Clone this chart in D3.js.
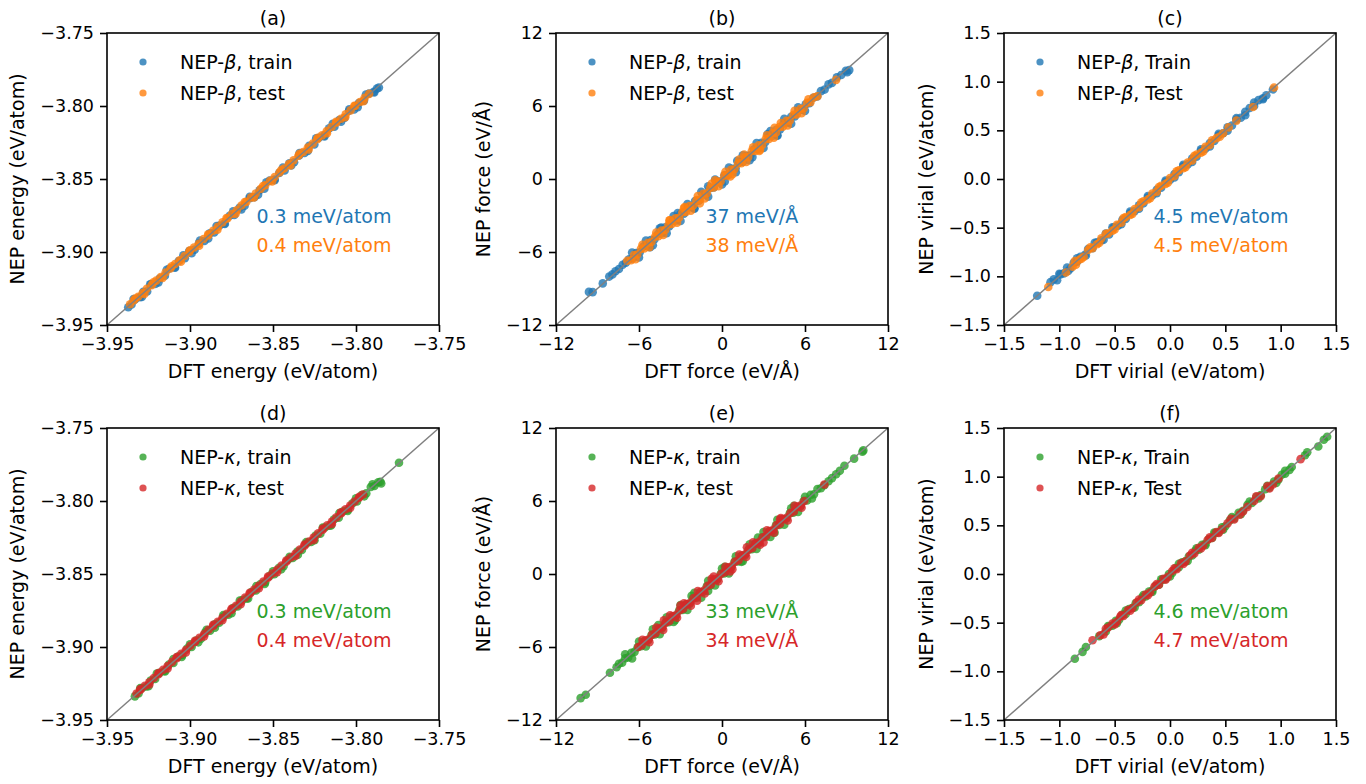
<!doctype html>
<html>
<head>
<meta charset="utf-8">
<style>
  body { margin: 0; background: #fff; }
  svg { display: block; }
  text { font-family: "DejaVu Sans", sans-serif; fill: #000; }
</style>
</head>
<body>
<svg width="1366" height="784"></svg>
<script src="https://d3js.org/d3.v7.min.js"></script>
<script>
  // values: [DFT, NEP]
  let energyTrainBeta = [
    [-3.9372,-3.9378],[-3.9352,-3.9360],[-3.9331,-3.9325],[-3.9302,-3.9310],[-3.9281,-3.9272],[-3.9258,-3.9270],
    [-3.9234,-3.9222],[-3.9207,-3.9218],[-3.9183,-3.9181],[-3.9151,-3.9163],[-3.9124,-3.9113],[-3.9093,-3.9104],
    [-3.9068,-3.9062],[-3.9031,-3.9043],[-3.9005,-3.8993],[-3.8972,-3.8984],[-3.8946,-3.8941],[-3.8913,-3.8925],
    [-3.8881,-3.8872],[-3.8854,-3.8866],[-3.8822,-3.8819],[-3.8793,-3.8805],[-3.8761,-3.8752],[-3.8733,-3.8746],
    [-3.8702,-3.8698],[-3.8671,-3.8683],[-3.8640,-3.8632],[-3.8612,-3.8625],[-3.8581,-3.8577],[-3.8552,-3.8566],
    [-3.8520,-3.8511],[-3.8491,-3.8504],[-3.8462,-3.8458],[-3.8430,-3.8442],[-3.8401,-3.8392],[-3.8373,-3.8385],
    [-3.8342,-3.8339],[-3.8310,-3.8322],[-3.8282,-3.8273],[-3.8251,-3.8264],[-3.8223,-3.8218],[-3.8191,-3.8203],
    [-3.8162,-3.8153],[-3.8130,-3.8142],[-3.8101,-3.8097],[-3.8070,-3.8082],[-3.8042,-3.8033],[-3.8011,-3.8024],
    [-3.7983,-3.7979],[-3.7952,-3.7963],[-3.7921,-3.7914],[-3.7893,-3.7902],[-3.7874,-3.7881],[-3.7862,-3.7874],
    [-3.9340,-3.9322],[-3.9290,-3.9308],[-3.9240,-3.9222],[-3.9190,-3.9208],[-3.9140,-3.9122],[-3.9090,-3.9108],
    [-3.9040,-3.9022],[-3.8990,-3.9008],[-3.8940,-3.8922],[-3.8890,-3.8908],[-3.8840,-3.8822],[-3.8790,-3.8808],
    [-3.8740,-3.8722],[-3.8690,-3.8708],[-3.8640,-3.8622],[-3.8590,-3.8608],[-3.8540,-3.8522],[-3.8490,-3.8508],
    [-3.8440,-3.8422],[-3.8390,-3.8408],[-3.8340,-3.8322],[-3.8290,-3.8308],[-3.8240,-3.8222],[-3.8190,-3.8208],
    [-3.8140,-3.8122],[-3.8090,-3.8108],[-3.8040,-3.8022],[-3.7990,-3.8008],[-3.7940,-3.7922],[-3.7890,-3.7908]
  ];
  let energyTestBeta = [
    [-3.9361,-3.9358],[-3.9338,-3.9331],[-3.9312,-3.9306],[-3.9285,-3.9281],[-3.9260,-3.9252],[-3.9231,-3.9227],
    [-3.9203,-3.9196],[-3.9176,-3.9171],[-3.9147,-3.9140],[-3.9118,-3.9113],[-3.9090,-3.9082],[-3.9062,-3.9057],
    [-3.9033,-3.9027],[-3.9004,-3.8999],[-3.8976,-3.8969],[-3.8947,-3.8943],[-3.8918,-3.8911],[-3.8890,-3.8886],
    [-3.8861,-3.8855],[-3.8832,-3.8828],[-3.8804,-3.8797],[-3.8775,-3.8771],[-3.8747,-3.8740],[-3.8718,-3.8714],
    [-3.8690,-3.8682],[-3.8661,-3.8657],[-3.8632,-3.8626],[-3.8604,-3.8600],[-3.8575,-3.8568],[-3.8547,-3.8543],
    [-3.8518,-3.8512],[-3.8490,-3.8486],[-3.8461,-3.8455],[-3.8433,-3.8428],[-3.8404,-3.8398],[-3.8376,-3.8372],
    [-3.8347,-3.8341],[-3.8318,-3.8315],[-3.8290,-3.8284],[-3.8261,-3.8258],[-3.8233,-3.8228],[-3.8204,-3.8201],
    [-3.8176,-3.8172],[-3.8147,-3.8144],[-3.8119,-3.8115],[-3.8090,-3.8087],[-3.8062,-3.8057],[-3.8033,-3.8030],
    [-3.8005,-3.8000],[-3.7976,-3.7973],[-3.7948,-3.7944],[-3.7921,-3.7917],
    [-3.9330,-3.9318],[-3.9275,-3.9287],[-3.9220,-3.9208],[-3.9165,-3.9177],[-3.9110,-3.9098],[-3.9055,-3.9067],
    [-3.9000,-3.8988],[-3.8945,-3.8957],[-3.8890,-3.8878],[-3.8835,-3.8847],[-3.8780,-3.8768],[-3.8725,-3.8737],
    [-3.8670,-3.8658],[-3.8615,-3.8627],[-3.8560,-3.8548],[-3.8505,-3.8517],[-3.8450,-3.8438],[-3.8395,-3.8407],
    [-3.8340,-3.8328],[-3.8285,-3.8297],[-3.8230,-3.8218],[-3.8175,-3.8187],[-3.8120,-3.8108],[-3.8065,-3.8077],
    [-3.8010,-3.7998],[-3.7955,-3.7967]
  ];
  let forceTrainBeta = [
    [-9.62,-9.28],[-9.35,-9.30],[-8.62,-8.58],[-8.15,-8.02],[-7.92,-7.84],[-7.70,-7.58],[-7.45,-7.40],[-7.18,-7.05],
    [-6.95,-6.88],[-6.72,-6.60],[-6.45,-6.52],[-6.20,-6.08],[-5.95,-6.02],[-5.68,-5.55],[-5.40,-5.48],[-5.15,-5.02],
    [-4.88,-4.95],[-4.62,-4.50],[-4.35,-4.45],[-4.10,-3.96],[-3.82,-3.90],[-3.55,-3.42],[-3.30,-3.40],[-3.02,-2.88],
    [-2.75,-2.85],[-2.48,-2.35],[-2.22,-2.32],[-1.95,-1.82],[-1.68,-1.78],[-1.40,-1.28],[-1.15,-1.25],[-0.88,-0.76],
    [-0.60,-0.70],[-0.35,-0.22],[-0.08,-0.18],[0.18,0.30],[0.45,0.35],[0.72,0.84],[0.98,0.88],[1.25,1.38],
    [1.52,1.42],[1.78,1.90],[2.05,1.95],[2.32,2.45],[2.60,2.48],[2.85,2.98],[3.12,3.02],[3.40,3.52],
    [3.66,3.55],[3.92,4.05],[4.20,4.08],[4.46,4.58],[4.72,4.62],[5.00,5.12],[5.26,5.15],[5.52,5.62],
    [5.80,5.70],[6.05,6.15],[6.32,6.22],[6.60,6.68],[6.88,6.78],[7.15,7.22],[7.42,7.35],[7.70,7.78],
    [7.95,7.90],[8.30,8.35],[8.62,8.55],[8.95,8.90],[9.20,8.95],[9.05,8.78],
    [-3.2,-2.8],[-2.0,-2.4],[-1.0,-0.6],[0.2,-0.2],[1.1,1.5],[2.2,1.8],[3.3,3.7],[4.0,3.6],[-4.4,-4.0],[-5.2,-5.6],
    [-6.5,-6.05],[-6.0,-6.45],[-5.5,-5.05],[-5.0,-5.45],[-4.5,-4.05],[-4.0,-4.45],[-3.5,-3.05],[-3.0,-3.45],
    [-2.5,-2.05],[-2.0,-2.45],[-1.5,-1.05],[-1.0,-1.45],[-0.5,-0.05],[0.0,-0.45],[0.5,0.95],[1.0,0.55],
    [1.5,1.95],[2.0,1.55],[2.5,2.95],[3.0,2.55],[3.5,3.95],[4.0,3.55],[4.5,4.95],[5.0,4.55],[5.5,5.9],[6.0,5.6]
  ];
  let forceTestBeta = [
    [-6.85,-6.72],[-6.58,-6.68],[-6.36,-6.25],[-6.12,-6.20],[-5.86,-5.74],[-5.62,-5.70],[-5.34,-5.24],[-5.10,-5.18],
    [-4.84,-4.74],[-4.60,-4.70],[-4.36,-4.24],[-4.10,-4.18],[-3.86,-3.74],[-3.62,-3.70],[-3.35,-3.22],[-3.10,-3.18],
    [-2.86,-2.74],[-2.60,-2.70],[-2.35,-2.22],[-2.10,-2.20],[-1.84,-1.74],[-1.60,-1.70],[-1.36,-1.22],[-1.10,-1.18],
    [-0.86,-0.74],[-0.60,-0.70],[-0.35,-0.22],[-0.10,-0.20],[0.16,0.28],[0.40,0.30],[0.66,0.78],[0.90,0.80],
    [1.16,1.28],[1.40,1.30],[1.66,1.78],[1.90,1.80],[2.15,2.28],[2.40,2.30],[2.64,2.76],[2.90,2.80],
    [3.16,3.28],[3.40,3.30],[3.66,3.78],[3.90,3.80],[4.14,4.26],[4.40,4.30],[4.66,4.78],[4.90,4.80],
    [5.16,5.28],[5.40,5.30],[5.66,5.76],[5.90,5.80],[6.15,6.26],[6.40,6.32],[6.66,6.72],[6.90,6.80],[8.25,8.15],
    [-2.7,-2.3],[-1.6,-2.0],[-0.5,-0.1],[0.6,0.2],[1.6,2.0],[2.7,2.3],[-3.8,-3.4],[3.8,4.2],
    [-6.25,-6.6],[-5.75,-5.4],[-5.25,-5.6],[-4.75,-4.4],[-4.25,-4.6],[-3.75,-3.4],[-3.25,-3.6],[-2.75,-2.4],
    [-2.25,-2.6],[-1.75,-1.4],[-1.25,-1.6],[-0.75,-0.4],[-0.25,-0.6],[0.25,0.6],[0.75,0.4],[1.25,1.6],
    [1.75,1.4],[2.25,2.6],[2.75,2.4],[3.25,3.6],[3.75,3.4],[4.25,4.6],[4.75,4.4],[5.25,5.6],[5.75,5.4],[6.25,6.55]
  ];
  let virialTrainBeta = [
    [-1.20,-1.20],[-1.08,-1.06],[-1.05,-1.03],[-1.02,-1.04],[-0.99,-0.98],[-0.96,-0.97],[-0.93,-0.91],[-0.90,-0.92],
    [-0.87,-0.86],[-0.84,-0.85],[-0.81,-0.80],[-0.77,-0.78],[-0.74,-0.72],[-0.70,-0.71],[-0.66,-0.65],[-0.62,-0.63],
    [-0.58,-0.56],[-0.55,-0.57],[-0.51,-0.50],[-0.47,-0.48],[-0.43,-0.42],[-0.40,-0.41],[-0.36,-0.35],[-0.32,-0.33],
    [-0.28,-0.27],[-0.24,-0.25],[-0.20,-0.19],[-0.16,-0.17],[-0.12,-0.11],[-0.08,-0.09],[-0.04,-0.03],[0.00,-0.01],
    [0.04,0.05],[0.08,0.07],[0.12,0.13],[0.16,0.15],[0.20,0.21],[0.24,0.23],[0.28,0.29],[0.32,0.31],
    [0.36,0.37],[0.40,0.39],[0.44,0.45],[0.48,0.47],[0.52,0.53],[0.56,0.55],[0.60,0.61],[0.64,0.63],
    [0.68,0.69],[0.72,0.73],[0.76,0.75],[0.80,0.81],[0.84,0.83],[0.87,0.86],[0.93,0.92],
    [-1.00,-0.975],[-0.92,-0.945],[-0.84,-0.815],[-0.76,-0.785],[-0.68,-0.655],[-0.60,-0.625],[-0.52,-0.495],
    [-0.44,-0.465],[-0.36,-0.335],[-0.28,-0.305],[-0.20,-0.175],[-0.12,-0.145],[-0.04,-0.015],[0.04,0.015],
    [0.12,0.145],[0.20,0.175],[0.28,0.305],[0.36,0.335],[0.44,0.465],[0.52,0.495],[0.60,0.625],[0.68,0.655],
    [0.76,0.785],[0.84,0.82]
  ];
  let virialTestBeta = [
    [-1.10,-1.11],[-0.94,-0.96],[-0.88,-0.90],[-0.85,-0.88],[-0.82,-0.83],[-0.78,-0.80],[-0.74,-0.73],[-0.70,-0.71],
    [-0.66,-0.67],[-0.62,-0.61],[-0.56,-0.56],[-0.52,-0.53],[-0.48,-0.47],[-0.44,-0.45],[-0.40,-0.39],[-0.36,-0.37],
    [-0.32,-0.31],[-0.28,-0.29],[-0.24,-0.23],[-0.20,-0.21],[-0.16,-0.15],[-0.12,-0.13],[-0.08,-0.07],[-0.04,-0.05],
    [0.00,0.01],[0.04,0.03],[0.08,0.09],[0.12,0.11],[0.16,0.17],[0.20,0.19],[0.24,0.25],[0.28,0.27],
    [0.32,0.33],[0.36,0.35],[0.42,0.42],[0.48,0.47],[0.53,0.53],[0.60,0.60],[0.75,0.74],[0.94,0.94],
    [-0.86,-0.842],[-0.80,-0.818],[-0.72,-0.702],[-0.64,-0.658],[-0.58,-0.562],[-0.50,-0.518],[-0.42,-0.402],
    [-0.34,-0.358],[-0.26,-0.242],[-0.18,-0.198],[-0.10,-0.082],[-0.02,-0.038],[0.06,0.078],[0.14,0.122],
    [0.22,0.238],[0.30,0.282],[0.38,0.398],[0.45,0.435]
  ];
  let energyTrainKappa = [
    [-3.9332,-3.9338],[-3.9310,-3.9318],[-3.9288,-3.9281],[-3.9262,-3.9271],[-3.9237,-3.9230],[-3.9210,-3.9219],
    [-3.9183,-3.9177],[-3.9155,-3.9164],[-3.9128,-3.9121],[-3.9100,-3.9110],[-3.9072,-3.9066],[-3.9045,-3.9054],
    [-3.9017,-3.9010],[-3.8990,-3.8999],[-3.8962,-3.8956],[-3.8934,-3.8944],[-3.8907,-3.8900],[-3.8879,-3.8888],
    [-3.8851,-3.8845],[-3.8824,-3.8833],[-3.8796,-3.8789],[-3.8768,-3.8778],[-3.8741,-3.8734],[-3.8713,-3.8722],
    [-3.8685,-3.8679],[-3.8658,-3.8667],[-3.8630,-3.8623],[-3.8602,-3.8612],[-3.8575,-3.8568],[-3.8547,-3.8556],
    [-3.8519,-3.8513],[-3.8492,-3.8501],[-3.8464,-3.8457],[-3.8436,-3.8446],[-3.8409,-3.8402],[-3.8381,-3.8390],
    [-3.8353,-3.8347],[-3.8326,-3.8335],[-3.8298,-3.8291],[-3.8270,-3.8280],[-3.8243,-3.8236],[-3.8215,-3.8224],
    [-3.8187,-3.8181],[-3.8160,-3.8169],[-3.8132,-3.8125],[-3.8104,-3.8114],[-3.8077,-3.8070],[-3.8049,-3.8058],
    [-3.8021,-3.8015],[-3.7994,-3.8003],[-3.7966,-3.7959],[-3.7938,-3.7948],[-3.7911,-3.7904],[-3.7889,-3.7897],
    [-3.7866,-3.7872],[-3.7848,-3.7880],[-3.7853,-3.7868],[-3.7741,-3.7738],
    [-3.9300,-3.9282],[-3.9250,-3.9268],[-3.9200,-3.9182],[-3.9150,-3.9168],[-3.9100,-3.9082],[-3.9050,-3.9068],
    [-3.9000,-3.8982],[-3.8950,-3.8968],[-3.8900,-3.8882],[-3.8850,-3.8868],[-3.8800,-3.8782],[-3.8750,-3.8768],
    [-3.8700,-3.8682],[-3.8650,-3.8668],[-3.8600,-3.8582],[-3.8550,-3.8568],[-3.8500,-3.8482],[-3.8450,-3.8468],
    [-3.8400,-3.8382],[-3.8350,-3.8368],[-3.8300,-3.8282],[-3.8250,-3.8268],[-3.8200,-3.8182],[-3.8150,-3.8168],
    [-3.8100,-3.8082],[-3.8050,-3.8068],[-3.8000,-3.7982],[-3.7950,-3.7968],[-3.7900,-3.7885]
  ];
  let energyTestKappa = [
    [-3.9322,-3.9318],[-3.9298,-3.9293],[-3.9272,-3.9266],[-3.9245,-3.9241],[-3.9218,-3.9212],[-3.9190,-3.9186],
    [-3.9163,-3.9157],[-3.9135,-3.9131],[-3.9108,-3.9102],[-3.9080,-3.9076],[-3.9053,-3.9047],[-3.9025,-3.9021],
    [-3.8998,-3.8992],[-3.8970,-3.8966],[-3.8943,-3.8937],[-3.8915,-3.8911],[-3.8888,-3.8882],[-3.8860,-3.8856],
    [-3.8833,-3.8827],[-3.8805,-3.8801],[-3.8778,-3.8772],[-3.8750,-3.8746],[-3.8723,-3.8717],[-3.8695,-3.8691],
    [-3.8668,-3.8662],[-3.8640,-3.8636],[-3.8613,-3.8607],[-3.8585,-3.8581],[-3.8558,-3.8552],[-3.8530,-3.8526],
    [-3.8503,-3.8497],[-3.8475,-3.8471],[-3.8448,-3.8442],[-3.8420,-3.8416],[-3.8393,-3.8387],[-3.8365,-3.8361],
    [-3.8338,-3.8332],[-3.8310,-3.8306],[-3.8283,-3.8277],[-3.8255,-3.8251],[-3.8228,-3.8222],[-3.8200,-3.8196],
    [-3.8173,-3.8167],[-3.8145,-3.8141],[-3.8118,-3.8112],[-3.8090,-3.8086],[-3.8063,-3.8057],[-3.8035,-3.8031],
    [-3.8008,-3.8003],[-3.7982,-3.7978],[-3.7958,-3.7955],
    [-3.9300,-3.9288],[-3.9245,-3.9257],[-3.9190,-3.9178],[-3.9135,-3.9147],[-3.9080,-3.9068],[-3.9025,-3.9037],
    [-3.8970,-3.8958],[-3.8915,-3.8927],[-3.8860,-3.8848],[-3.8805,-3.8817],[-3.8750,-3.8738],[-3.8695,-3.8707],
    [-3.8640,-3.8628],[-3.8585,-3.8597],[-3.8530,-3.8518],[-3.8475,-3.8487],[-3.8420,-3.8408],[-3.8365,-3.8377],
    [-3.8310,-3.8298],[-3.8255,-3.8267],[-3.8200,-3.8188],[-3.8145,-3.8157],[-3.8090,-3.8078],[-3.8035,-3.8047],
    [-3.7980,-3.7972]
  ];
  let forceTrainKappa = [
    [-10.22,-10.20],[-9.85,-9.92],[-8.10,-8.12],[-7.62,-7.66],[-7.45,-7.38],[-7.22,-7.30],[-7.00,-6.92],[-6.78,-6.86],
    [-6.55,-6.48],[-6.32,-6.40],[-6.10,-6.02],[-5.85,-5.94],[-5.60,-5.52],[-5.35,-5.45],[-5.10,-5.02],[-4.85,-4.96],
    [-4.60,-4.50],[-4.35,-4.46],[-4.10,-4.00],[-3.85,-3.96],[-3.60,-3.50],[-3.35,-3.46],[-3.10,-3.00],[-2.85,-2.96],
    [-2.60,-2.50],[-2.35,-2.46],[-2.10,-2.00],[-1.85,-1.96],[-1.60,-1.50],[-1.35,-1.46],[-1.10,-1.00],[-0.85,-0.96],
    [-0.60,-0.50],[-0.35,-0.46],[-0.10,0.00],[0.15,0.04],[0.40,0.50],[0.65,0.54],[0.90,1.00],[1.15,1.04],
    [1.40,1.50],[1.65,1.54],[1.90,2.00],[2.15,2.04],[2.40,2.50],[2.65,2.54],[2.90,3.00],[3.15,3.04],
    [3.40,3.50],[3.65,3.54],[3.90,4.00],[4.15,4.04],[4.40,4.50],[4.65,4.54],[4.90,5.00],[5.15,5.04],
    [5.40,5.50],[5.65,5.54],[5.90,6.00],[6.15,6.04],[6.40,6.50],[6.65,6.56],[6.90,6.98],[7.15,7.05],
    [7.40,7.30],[7.70,7.62],[7.95,7.88],[8.25,8.20],[8.52,8.48],[8.85,8.90],[9.55,9.48],[10.15,10.05],[10.22,10.16],
    [-4.6,-4.2],[-3.4,-3.8],[-2.2,-1.8],[-1.0,-1.4],[0.2,0.6],[1.4,1.0],[2.6,3.0],[3.8,3.4],[5.2,5.6],
    [-7.0,-6.6],[-6.5,-6.95],[-6.0,-5.55],[-5.5,-5.95],[-5.0,-4.55],[-4.5,-4.95],[-4.0,-3.55],[-3.5,-3.95],
    [-3.0,-2.55],[-2.5,-2.95],[-2.0,-1.55],[-1.5,-1.95],[-1.0,-0.55],[-0.5,-0.95],[0.0,0.45],[0.5,0.05],
    [1.0,1.45],[1.5,1.05],[2.0,2.45],[2.5,2.05],[3.0,3.45],[3.5,3.05],[4.0,4.45],[4.5,4.05],
    [5.0,5.4],[5.5,5.1],[6.0,6.35],[6.5,6.2]
  ];
  let forceTestKappa = [
    [-6.05,-6.00],[-5.80,-5.86],[-5.55,-5.48],[-5.30,-5.36],[-5.05,-4.98],[-4.80,-4.86],[-4.55,-4.48],[-4.30,-4.36],
    [-4.05,-3.98],[-3.80,-3.86],[-3.55,-3.48],[-3.30,-3.36],[-3.05,-2.98],[-2.80,-2.86],[-2.55,-2.48],[-2.30,-2.36],
    [-2.05,-1.98],[-1.80,-1.86],[-1.55,-1.48],[-1.30,-1.36],[-1.05,-0.98],[-0.80,-0.86],[-0.55,-0.48],[-0.30,-0.36],
    [-0.05,0.02],[0.20,0.14],[0.45,0.52],[0.70,0.64],[0.95,1.02],[1.20,1.14],[1.45,1.52],[1.70,1.64],
    [1.95,2.02],[2.20,2.14],[2.45,2.52],[2.70,2.64],[2.95,3.02],[3.20,3.14],[3.45,3.52],[3.70,3.64],
    [3.95,4.02],[4.20,4.14],[4.45,4.52],[4.70,4.64],[4.95,5.02],[5.20,5.14],[5.45,5.52],[5.70,5.64],
    [5.95,6.00],[7.40,7.35],
    [-3.0,-2.6],[-1.8,-2.2],[-0.6,-0.2],[0.6,0.2],[1.8,2.2],[3.0,2.6],[-4.2,-3.8],[4.2,4.5],
    [-5.75,-5.4],[-5.25,-5.6],[-4.75,-4.4],[-4.25,-4.6],[-3.75,-3.4],[-3.25,-3.6],[-2.75,-2.4],[-2.25,-2.6],
    [-1.75,-1.4],[-1.25,-1.6],[-0.75,-0.4],[-0.25,-0.6],[0.25,0.6],[0.75,0.4],[1.25,1.6],[1.75,1.4],
    [2.25,2.6],[2.75,2.4],[3.25,3.6],[3.75,3.4],[4.25,4.6],[4.75,4.4],[5.25,5.6],[5.75,5.45]
  ];
  let virialTrainKappa = [
    [-0.86,-0.87],[-0.79,-0.80],[-0.76,-0.75],[-0.64,-0.64],[-0.58,-0.59],[-0.55,-0.54],[-0.52,-0.53],[-0.49,-0.48],
    [-0.46,-0.47],[-0.43,-0.42],[-0.40,-0.41],[-0.37,-0.36],[-0.34,-0.35],[-0.31,-0.30],[-0.28,-0.29],[-0.25,-0.24],
    [-0.22,-0.23],[-0.19,-0.18],[-0.16,-0.17],[-0.13,-0.12],[-0.10,-0.11],[-0.07,-0.06],[-0.04,-0.05],[-0.01,0.00],
    [0.02,0.01],[0.05,0.06],[0.08,0.07],[0.11,0.12],[0.14,0.13],[0.17,0.18],[0.20,0.19],[0.23,0.24],
    [0.26,0.25],[0.29,0.30],[0.32,0.31],[0.35,0.36],[0.38,0.37],[0.41,0.42],[0.44,0.43],[0.47,0.48],
    [0.50,0.49],[0.54,0.55],[0.58,0.57],[0.62,0.63],[0.66,0.65],[0.70,0.71],[0.74,0.73],[0.78,0.79],
    [0.82,0.81],[0.86,0.87],[0.90,0.89],[0.94,0.95],[0.98,0.97],[1.01,1.02],[1.04,1.03],[1.08,1.07],
    [1.10,1.10],[1.22,1.22],[1.24,1.25],[1.34,1.31],[1.39,1.38],[1.42,1.41],
    [-0.56,-0.535],[-0.48,-0.505],[-0.40,-0.375],[-0.32,-0.345],[-0.24,-0.215],[-0.16,-0.185],[-0.08,-0.055],
    [0.00,-0.025],[0.08,0.105],[0.16,0.135],[0.24,0.265],[0.32,0.295],[0.40,0.425],[0.48,0.455],[0.56,0.585],
    [0.64,0.615],[0.72,0.745],[0.80,0.775],[0.88,0.905],[0.96,0.935],[1.04,1.06]
  ];
  let virialTestKappa = [
    [-0.70,-0.68],[-0.63,-0.63],[-0.60,-0.62],[-0.56,-0.55],[-0.52,-0.51],[-0.48,-0.49],[-0.45,-0.44],[-0.42,-0.43],
    [-0.38,-0.37],[-0.34,-0.35],[-0.30,-0.29],[-0.26,-0.27],[-0.22,-0.21],[-0.18,-0.19],[-0.14,-0.13],[-0.10,-0.11],
    [-0.06,-0.05],[-0.02,-0.03],[0.02,0.03],[0.06,0.05],[0.10,0.11],[0.14,0.13],[0.18,0.19],[0.22,0.21],
    [0.26,0.27],[0.30,0.29],[0.34,0.35],[0.38,0.37],[0.42,0.43],[0.47,0.46],[0.52,0.52],[0.58,0.56],
    [0.63,0.61],[0.70,0.69],[0.76,0.75],[0.82,0.80],[0.88,0.90],[0.93,0.92],[0.98,0.98],[1.18,1.18],
    [-0.58,-0.562],[-0.50,-0.518],[-0.44,-0.422],[-0.36,-0.378],[-0.28,-0.262],[-0.20,-0.218],[-0.12,-0.102],
    [-0.04,-0.058],[0.04,0.058],[0.12,0.102],[0.20,0.218],[0.28,0.262],[0.36,0.378],[0.44,0.422],[0.55,0.568],
    [0.66,0.642],[0.78,0.798],[0.90,0.88]
  ];

  let energyTicks = [-3.95, -3.90, -3.85, -3.80, -3.75];
  let forceTicks = [-12, -6, 0, 6, 12];
  let virialTicks = [-1.5, -1.0, -0.5, 0.0, 0.5, 1.0, 1.5];

  let rmseBeta = [["0.3 meV/atom", "0.4 meV/atom"], ["37 meV/Å", "38 meV/Å"], ["4.5 meV/atom", "4.5 meV/atom"]];
  let rmseKappa = [["0.3 meV/atom", "0.4 meV/atom"], ["33 meV/Å", "34 meV/Å"], ["4.6 meV/atom", "4.7 meV/atom"]];

  let blue = "#1f77b4", orange = "#ff7f0e", green = "#2ca02c", red = "#d62728";

  let kinds = [
    {ticks: energyTicks, fmt: d3.format(".2f"), xl: "DFT energy (eV/atom)", yl: "NEP energy (eV/atom)", words: ["train", "test"]},
    {ticks: forceTicks, fmt: d3.format("d"), xl: "DFT force (eV/Å)", yl: "NEP force (eV/Å)", words: ["train", "test"]},
    {ticks: virialTicks, fmt: d3.format(".1f"), xl: "DFT virial (eV/atom)", yl: "NEP virial (eV/atom)", words: ["Train", "Test"]}
  ];

  let panels = [
    {tag: "(a)", row: 0, col: 0, train: energyTrainBeta, test: energyTestBeta, c: [blue, orange], g: "β", rmse: rmseBeta[0]},
    {tag: "(b)", row: 0, col: 1, train: forceTrainBeta, test: forceTestBeta, c: [blue, orange], g: "β", rmse: rmseBeta[1]},
    {tag: "(c)", row: 0, col: 2, train: virialTrainBeta, test: virialTestBeta, c: [blue, orange], g: "β", rmse: rmseBeta[2]},
    {tag: "(d)", row: 1, col: 0, train: energyTrainKappa, test: energyTestKappa, c: [green, red], g: "κ", rmse: rmseKappa[0]},
    {tag: "(e)", row: 1, col: 1, train: forceTrainKappa, test: forceTestKappa, c: [green, red], g: "κ", rmse: rmseKappa[1]},
    {tag: "(f)", row: 1, col: 2, train: virialTrainKappa, test: virialTestKappa, c: [green, red], g: "κ", rmse: rmseKappa[2]}
  ];

  let svg = d3.select("svg");
  let colX = [107, 556, 1004], rowY = [33, 428];
  let w = 332, h = 292;

  panels.forEach(p => {
    let k = kinds[p.col];
    let dom = [k.ticks[0], k.ticks[k.ticks.length - 1]];
    let x = d3.scaleLinear().domain(dom).range([0, w]);
    let y = d3.scaleLinear().domain(dom).range([h, 0]);
    let g = svg.append("g").attr("transform", `translate(${colX[p.col]},${rowY[p.row]})`);

    [p.train, p.test].forEach((pts, i) => {
      g.append("g").selectAll("circle")
        .data(pts)
        .join("circle")
        .attr("cx", d => x(d[0]))
        .attr("cy", d => y(d[1]))
        .attr("r", 4.3)
        .attr("fill", p.c[i])
        .attr("fill-opacity", 0.8);
    });

    g.append("line")
      .attr("x1", x(dom[0])).attr("y1", y(dom[0]))
      .attr("x2", x(dom[1])).attr("y2", y(dom[1]))
      .attr("stroke", "#808080").attr("stroke-width", 1.5);

    let xa = g.append("g").attr("transform", `translate(0,${h})`)
      .call(d3.axisBottom(x).tickValues(k.ticks).tickFormat(k.fmt).tickSize(7).tickPadding(6));
    let ya = g.append("g")
      .call(d3.axisLeft(y).tickValues(k.ticks).tickFormat(k.fmt).tickSize(7).tickPadding(6));
    [xa, ya].forEach(a => {
      a.select(".domain").remove();
      a.selectAll("line").attr("stroke", "#000").attr("stroke-width", 1.6);
      a.selectAll("text").attr("font-size", 17.5).attr("font-family", "DejaVu Sans").attr("fill", "#000");
    });

    g.append("rect").attr("width", w).attr("height", h)
      .attr("fill", "none").attr("stroke", "#000").attr("stroke-width", 1.6);

    let maxW = d3.max(ya.selectAll("text").nodes(), n => n.getBBox().width);

    g.append("text").attr("x", w / 2).attr("y", -8).attr("text-anchor", "middle")
      .attr("font-size", 19).text(p.tag);
    g.append("text").attr("x", w / 2).attr("y", h + 53).attr("text-anchor", "middle")
      .attr("font-size", 19).text(k.xl);
    g.append("text")
      .attr("transform", `translate(${-13 - maxW - 23},${h / 2}) rotate(-90)`)
      .attr("text-anchor", "middle").attr("dominant-baseline", "central")
      .attr("font-size", 19).text(k.yl);

    // legend
    k.words.forEach((word, i) => {
      let ly = 29 + i * 31;
      g.append("circle").attr("cx", 36).attr("cy", ly).attr("r", 3.6)
        .attr("fill", p.c[i]).attr("fill-opacity", 0.8);
      let t = g.append("text").attr("x", 73).attr("y", ly)
        .attr("dominant-baseline", "central").attr("font-size", 19);
      t.append("tspan").text("NEP-");
      t.append("tspan").attr("font-style", "italic").text(p.g);
      t.append("tspan").text(", " + word);
    });

    // rmse notes
    p.rmse.forEach((s, i) => {
      g.append("text").attr("x", w * 0.45).attr("y", h * (1 - (0.35 - i * 0.1)))
        .attr("font-size", 19).style("fill", p.c[i]).text(s);
    });
  });
</script>
</body>
</html>
